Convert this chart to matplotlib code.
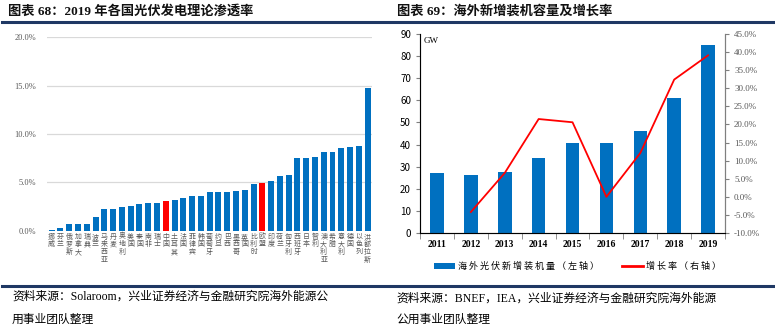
import matplotlib
matplotlib.use("Agg")
import matplotlib.pyplot as plt
import numpy as np
from matplotlib.lines import Line2D
from matplotlib.patches import Patch

plt.rcParams['font.family'] = ['Noto Sans CJK SC', 'DejaVu Sans']

SERIF = ['Liberation Serif', 'Noto Sans CJK SC']
NAVY = '#1F3864'
BLUE = '#0070C0'
RED = '#FF0000'

# chart 68: theoretical PV penetration by country, 2019
countries = ['挪威', '芬兰', '俄罗斯', '加拿大', '瑞典', '波兰', '马来西亚', '丹麦',
             '奥地利', '美国', '泰国', '南非', '瑞士', '中国', '土耳其', '法国',
             '菲律宾', '韩国', '葡萄牙', '约旦', '巴西', '墨西哥', '英国', '比利时',
             '欧盟', '印度', '荷兰', '匈牙利', '西班牙', '日本', '智利', '澳大利亚',
             '希腊', '意大利', '德国', '以色列', '洪都拉斯']
penetration = [0.10, 0.28, 0.70, 0.70, 0.70, 1.45, 2.20, 2.20, 2.40, 2.60,
               2.75, 2.85, 2.85, 3.07, 3.15, 3.38, 3.55, 3.60, 4.00, 4.00,
               4.00, 4.10, 4.20, 4.83, 4.93, 5.14, 5.66, 5.76, 7.52, 7.52,
               7.62, 8.14, 8.14, 8.52, 8.66, 8.76, 14.80]
highlight = ['中国', '欧盟']

# chart 69: overseas new installations and growth
years = ['2011', '2012', '2013', '2014', '2015', '2016', '2017', '2018', '2019']
new_gw = [27.2, 26.1, 27.8, 33.8, 40.6, 40.6, 46.1, 60.9, 84.9]
growth = [None, -4.2, 6.6, 21.5, 20.6, 0.0, 12.1, 32.4, 39.1]

fig = plt.figure(figsize=(7.75, 3.29), dpi=100)

# ---- headers / footers ----
fig.text(0.010, 0.966, '图表 68：2019 年各国光伏发电理论渗透率', fontsize=9.5,
         fontweight='bold', family=SERIF, va='center', color='#111111')
fig.text(0.512, 0.966, '图表 69：海外新增装机容量及增长率', fontsize=9.5,
         fontweight='bold', family=SERIF, va='center', color='#111111')
for x0, x1 in [(0.003, 0.500), (0.504, 1.0)]:
    fig.add_artist(Line2D([x0, x1], [0.934, 0.934], color=NAVY, lw=2.2))
    fig.add_artist(Line2D([x0, x1], [0.130, 0.130], color=NAVY, lw=2.2))

fig.text(0.0155, 0.098, '资料来源：Solaroom，兴业证券经济与金融研究院海外能源公',
         fontsize=8.5, family=SERIF, va='center')
fig.text(0.0155, 0.028, '用事业团队整理', fontsize=8.5, family=SERIF, va='center')
fig.text(0.512, 0.093, '资料来源：BNEF，IEA，兴业证券经济与金融研究院海外能源',
         fontsize=8.5, family=SERIF, va='center')
fig.text(0.512, 0.029, '公用事业团队整理', fontsize=8.5, family=SERIF, va='center')

# ---- left: penetration bars ----
ax1 = fig.add_axes([0.061, 0.2988, 0.419, 0.5878])
x = np.arange(len(countries))
colors = [RED if c in highlight else BLUE for c in countries]
ax1.bar(x, penetration, width=0.68, color=colors, zorder=3)
ax1.set_xlim(-0.5, len(countries) - 0.5)
ax1.set_ylim(0, 20)
ax1.set_yticks([0, 5, 10, 15, 20])
ax1.set_yticklabels([f'{v:.1f}%' for v in [0, 5, 10, 15, 20]],
                    fontsize=6, color='#595959', family=SERIF)
ax1.yaxis.grid(True, color='#D9D9D9', lw=0.9, zorder=0)
for s in ax1.spines.values():
    s.set_visible(False)
ax1.tick_params(axis='both', length=0)
ax1.tick_params(axis='y', pad=8)
ax1.set_xticks(x)
ax1.set_xticklabels(['\n'.join(c) for c in countries], fontsize=5,
                    color='#595959', linespacing=0.95, va='top')
ax1.tick_params(axis='x', pad=1.5)

# ---- right: installations + growth ----
ax2 = fig.add_axes([0.542, 0.2918, 0.3935, 0.6049])
xi = np.arange(len(years))
ax2.bar(xi, new_gw, width=0.4, color=BLUE, zorder=2)
ax2.set_xlim(-0.5, len(years) - 0.5)
ax2.set_ylim(0, 90)
ax2.set_yticks(np.arange(0, 91, 10))
ax2.tick_params(axis='y', labelsize=7, length=3, color='#7F7F7F', direction='out')
ax2.set_xticks(xi)
ax2.set_xticklabels(years, fontsize=7, fontweight='bold', family=SERIF)
ax2.tick_params(axis='x', length=0, pad=5)
ax2.set_xticks(np.arange(-0.5, len(years), 1), minor=True)
ax2.tick_params(axis='x', which='minor', length=4, color='#7F7F7F', direction='out')
ax2.spines['top'].set_visible(False)
for k in ['left', 'bottom', 'right']:
    ax2.spines[k].set_color('#7F7F7F')
ax2.text(0.012, 0.985, 'GW', transform=ax2.transAxes, fontsize=6.5,
         va='top', ha='left', family=SERIF)

ax3 = ax2.twinx()
gx = [i for i, g in enumerate(growth) if g is not None]
gy = [g for g in growth if g is not None]
ax3.plot(gx, gy, color=RED, lw=1.3, zorder=4)
ax3.set_ylim(-10, 45)
ax3.set_yticks(np.arange(-10, 46, 5))
ax3.set_yticklabels([f'{v:.1f}%' for v in np.arange(-10, 46, 5)],
                    fontsize=6.5, color='#595959', family=SERIF)
ax3.tick_params(axis='y', length=3, color='#7F7F7F', direction='out')
ax3.spines['top'].set_visible(False)
ax3.spines['right'].set_color('#7F7F7F')

handles = [Patch(facecolor=BLUE, edgecolor='none'),
           Line2D([0], [0], color=RED, lw=2)]
labels = ['海 外 光 伏 新 增 装 机 量 （ 左 轴 ）', '增 长 率 （ 右 轴 ）']
fig.legend(handles, labels, loc='center', bbox_to_anchor=(0.745, 0.189),
           ncol=2, frameon=False, fontsize=6.5, handlelength=2.4,
           handleheight=0.7, columnspacing=2.5, handletextpad=0.3)

fig.savefig('out.png', dpi=100)
